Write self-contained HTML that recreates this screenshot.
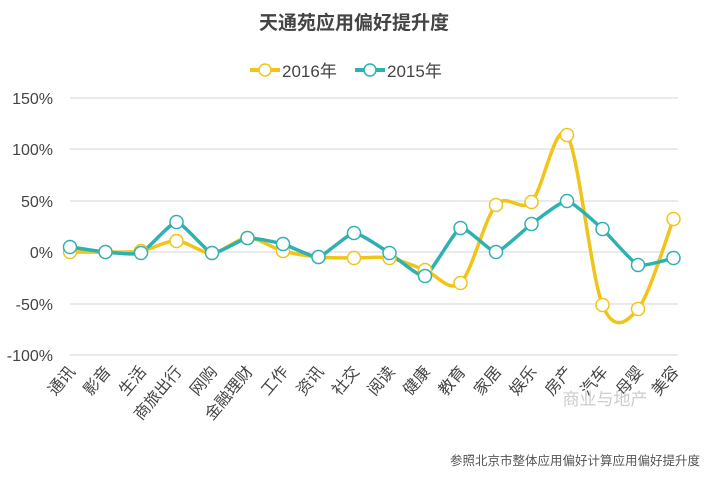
<!DOCTYPE html>
<html><head><meta charset="utf-8"><style>
body{margin:0;background:#fff;width:708px;height:474px;overflow:hidden;font-family:"Liberation Sans","Noto Sans CJK SC",sans-serif}
</style></head><body>
<svg id="s" width="708" height="474" xmlns="http://www.w3.org/2000/svg" font-family="Liberation Sans, Noto Sans CJK SC, sans-serif">
<text x="354" y="29" text-anchor="middle" font-size="19" font-weight="bold" fill="#444">天通苑应用偏好提升度</text>
<line x1="250" y1="70" x2="280" y2="70" stroke="#f0c419" stroke-width="4"/>
<circle cx="265" cy="70" r="6" fill="#fff" stroke="#f0c419" stroke-width="1.5"/>
<text x="282" y="77" font-size="17" fill="#444">2016年</text>
<line x1="355" y1="70" x2="385" y2="70" stroke="#2fb1b1" stroke-width="4"/>
<circle cx="370" cy="70" r="6" fill="#fff" stroke="#2fb1b1" stroke-width="1.5"/>
<text x="387" y="77" font-size="17" fill="#444">2015年</text>
<g stroke="#ddd" stroke-width="1.3">
<line x1="70" y1="98" x2="678" y2="98"/><line x1="70" y1="149" x2="678" y2="149"/><line x1="70" y1="201" x2="678" y2="201"/><line x1="70" y1="252" x2="678" y2="252"/><line x1="70" y1="304" x2="678" y2="304"/><line x1="70" y1="355" x2="678" y2="355"/>
</g>
<g font-size="16" fill="#444" text-anchor="end">
<text x="53" y="104">150%</text><text x="53" y="155">100%</text><text x="53" y="207">50%</text><text x="53" y="258">0%</text><text x="53" y="310">-50%</text><text x="53" y="361">-100%</text>
</g>
<g id="lines"></g>
<g id="labels" font-size="16" fill="#444" text-anchor="end"></g>
<text x="605" y="405" font-size="17" fill="#ccc" text-anchor="middle">商业与地产</text>
<text x="700" y="465" font-size="12.5" fill="#555" text-anchor="end">参照北京市整体应用偏好计算应用偏好提升度</text>
</svg>
<script>
var xs=[],i;for(i=0;i<18;i++)xs.push(70+i*35.5);
var a=[252,252,251,241,253,238,251,257,258,258,270,283,205,202,135,305,309,219];
var b=[247,252,253,222,253,238,244,257,233,253,276,228,252,224,201,229,265,258];
var names=["通讯","影音","生活","商旅出行","网购","金融理财","工作","资讯","社交","阅读","健康","教育","家居","娱乐","房产","汽车","母婴","美容"];
function path(y,t){var d="M"+xs[0]+","+y[0];for(var i=0;i<y.length-1;i++){var p0=i?i-1:i,p3=i+2<y.length?i+2:i+1;
var c1x=xs[i]+(xs[i+1]-xs[p0])*t,c1y=y[i]+(y[i+1]-y[p0])*t,c2x=xs[i+1]-(xs[p3]-xs[i])*t,c2y=y[i+1]-(y[p3]-y[i])*t;
d+=" C"+c1x+","+c1y+" "+c2x+","+c2y+" "+xs[i+1]+","+y[i+1];}return d;}
var g=document.getElementById("lines"),h="";
h+='<path d="'+path(a,0.16)+'" fill="none" stroke="#f0c419" stroke-width="3.5"/>';
h+='<path d="'+path(b,0.08)+'" fill="none" stroke="#2fb1b1" stroke-width="3.5"/>';
for(i=0;i<18;i++){h+='<circle cx="'+xs[i]+'" cy="'+a[i]+'" r="6.5" fill="#fff" stroke="#f0c419" stroke-width="1.5"/>';}
for(i=0;i<18;i++){h+='<circle cx="'+xs[i]+'" cy="'+b[i]+'" r="6.5" fill="#fff" stroke="#2fb1b1" stroke-width="1.5"/>';}
g.innerHTML=h;
var l="";for(i=0;i<18;i++){l+='<text transform="translate('+(xs[i]+6)+',372) rotate(-50)">'+names[i]+'</text>';}
document.getElementById("labels").innerHTML=l;
</script>
</body></html>
